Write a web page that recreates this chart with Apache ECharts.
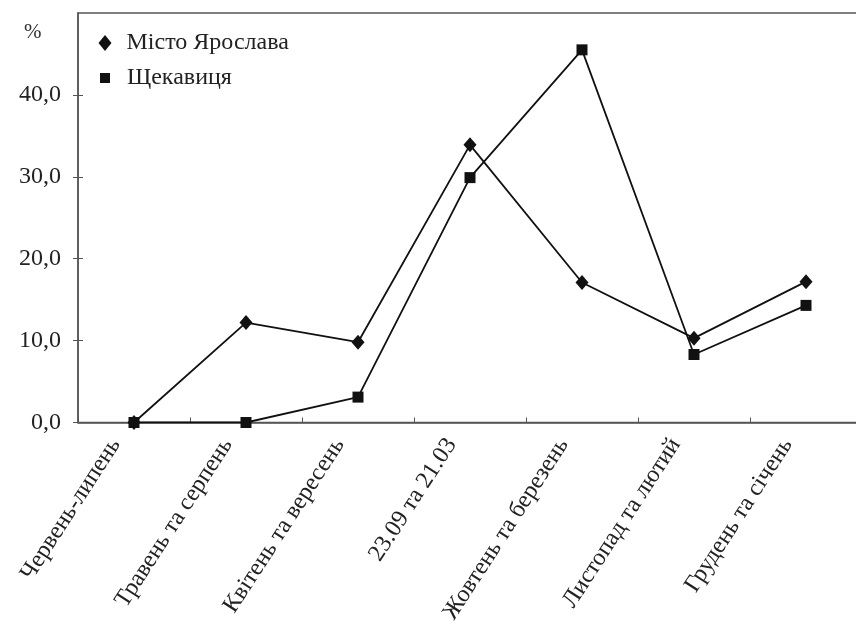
<!DOCTYPE html>
<html>
<head>
<meta charset="utf-8">
<script src="https://cdn.jsdelivr.net/npm/echarts@6/dist/echarts.min.js"></script>
<style>
html,body{margin:0;padding:0;background:#fff;overflow:hidden;width:856px;height:630px;}
#chart{width:872px;height:630px;}
</style>
</head>
<body>
<div id="chart"></div>
<script>
const categories = ['Червень-липень','Травень та серпень','Квітень та вересень','23.09 та 21.03','Жовтень та березень','Листопад та лютий','Грудень та січень'];
const yaroslav = [0.0, 12.2, 9.8, 33.9, 17.1, 10.3, 17.2];
const shchekavytsia = [0.0, 0.0, 3.1, 29.9, 45.5, 8.3, 14.3];
const yTicks = [0, 10, 20, 30, 40];
const yMax = 50;
const seriesNames = ['Місто Ярослава', 'Щекавиця'];

const font = 'Liberation Serif';
const chart = echarts.init(document.getElementById('chart'));
chart.setOption({
  animation: false,
  backgroundColor: '#fff',
  grid: {left: 78, top: 13, right: 10, bottom: 207.5, show: true, borderColor: '#555', borderWidth: 1.5,
    containLabel: false, outerBoundsMode: 'none'},
  legend: [{
    orient: 'vertical', left: 98.5, top: 31, padding: 0,
    itemWidth: 13, itemHeight: 16,
    data: [{name: seriesNames[0], icon: 'diamond'}],
    textStyle: {fontFamily: font, fontSize: 24, color: '#222', padding: [0,0,0,10]}
  }, {
    orient: 'vertical', left: 100, top: 66, padding: 0,
    itemWidth: 10, itemHeight: 10,
    data: [{name: seriesNames[1], icon: 'rect'}],
    textStyle: {fontFamily: font, fontSize: 24, color: '#222', padding: [0,0,0,12]}
  }],
  graphic: [{type: 'text', left: 24, top: 22, style: {text: '%', font: '21px "Liberation Serif"', fill: '#333'}}],
  xAxis: {
    type: 'category', data: categories, boundaryGap: true,
    axisLine: {lineStyle: {color: '#555', width: 1.5}},
    axisTick: {show: true, inside: true, length: 5, lineStyle: {color: '#555'}},
    axisLabel: {rotate: 57, margin: 30, lineHeight: 44, fontFamily: font, fontSize: 24, color: '#222', interval: 0,
      hideOverlap: false, formatter: v => v + '\n '}
  },
  yAxis: [{
    type: 'value', min: 0, max: yMax, interval: 10,
    axisLine: {show: true, lineStyle: {color: '#555', width: 1.5}},
    axisTick: {show: true, length: 5, lineStyle: {color: '#555'}, customValues: yTicks},
    splitLine: {show: false},
    axisLabel: {margin: 17, fontFamily: font, fontSize: 24, color: '#222', customValues: yTicks,
      formatter: v => v.toFixed(1).replace('.', ',')}
  }, {
    type: 'value', min: 0, max: yMax, interval: 10, position: 'left',
    axisLine: {show: false},
    axisTick: {show: true, inside: true, length: 5, lineStyle: {color: '#555'}, customValues: yTicks},
    axisLabel: {show: false}, splitLine: {show: false}
  }],
  series: [{
    name: seriesNames[0], type: 'line', data: yaroslav, z: 4,
    symbol: 'diamond', symbolSize: [13, 15],
    lineStyle: {color: '#111', width: 1.8},
    itemStyle: {color: '#111'}
  }, {
    name: seriesNames[1], type: 'line', data: shchekavytsia, z: 3,
    symbol: 'rect', symbolSize: 11,
    lineStyle: {color: '#111', width: 1.8},
    itemStyle: {color: '#111'}
  }]
});
</script>
</body>
</html>
